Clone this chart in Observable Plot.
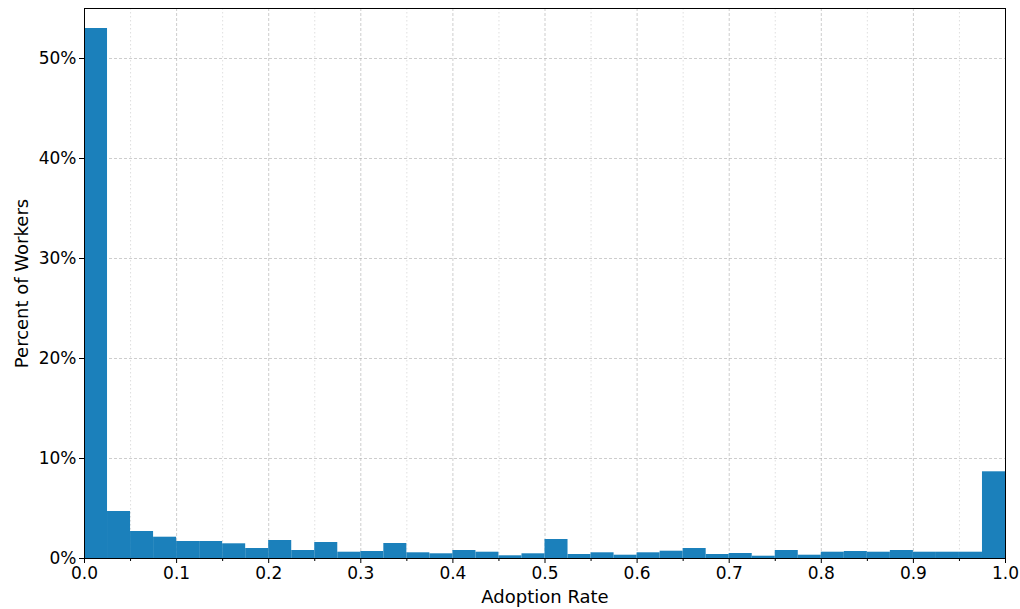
<!DOCTYPE html>
<html>
<head>
<meta charset="utf-8">
<script src="https://cdn.jsdelivr.net/npm/d3@7"></script>
<script src="https://cdn.jsdelivr.net/npm/@observablehq/plot@0.6"></script>
<style>
  html, body { margin: 0; padding: 0; background: #fff; }
  #chart { width: 1020px; height: 609px; }
</style>
</head>
<body>
<div id="chart"></div>
<script>
// Histogram bins (left edges, width 0.025) and percent of workers per bin
const binStart = [
  0.000, 0.025, 0.050, 0.075, 0.100, 0.125, 0.150, 0.175, 0.200, 0.225,
  0.250, 0.275, 0.300, 0.325, 0.350, 0.375, 0.400, 0.425, 0.450, 0.475,
  0.500, 0.525, 0.550, 0.575, 0.600, 0.625, 0.650, 0.675, 0.700, 0.725,
  0.750, 0.775, 0.800, 0.825, 0.850, 0.875, 0.900, 0.925, 0.950, 0.975
];
const binWidth = 0.025;
const percentWorkers = [
  53.0, 4.7, 2.7, 2.13, 1.7, 1.7, 1.47, 1.0, 1.8, 0.8,
  1.6, 0.63, 0.7, 1.5, 0.57, 0.47, 0.8, 0.63, 0.27, 0.47,
  1.9, 0.4, 0.57, 0.33, 0.57, 0.73, 1.0, 0.4, 0.5, 0.23,
  0.8, 0.33, 0.63, 0.7, 0.63, 0.8, 0.63, 0.63, 0.63, 8.67
];
const xMajorTicks = [0, 0.1, 0.2, 0.3, 0.4, 0.5, 0.6, 0.7, 0.8, 0.9, 1.0];
const xMinorTicks = [0.05, 0.15, 0.25, 0.35, 0.45, 0.55, 0.65, 0.75, 0.85, 0.95];
const yTicks = [0, 10, 20, 30, 40, 50];

const bins = binStart.map((s, i) => ({x1: s, x2: s + binWidth, y: percentWorkers[i]}));

const chart = Plot.plot({
  width: 1020,
  height: 609,
  marginLeft: 84,
  marginRight: 15,
  marginTop: 8,
  marginBottom: 51,
  style: {fontFamily: "DejaVu Sans", fontSize: "17px", color: "#000", background: "#fff"},
  x: {domain: [0, 1]},
  y: {domain: [0, 55]},
  marks: [
    Plot.gridX(xMinorTicks, {stroke: "#b0b0b0", strokeOpacity: 0.5, strokeDasharray: "1.5,2.5", strokeWidth: 0.8}),
    Plot.gridX(xMajorTicks, {stroke: "#b0b0b0", strokeOpacity: 0.8, strokeDasharray: "3,2", strokeWidth: 0.8}),
    Plot.gridY(yTicks, {stroke: "#b0b0b0", strokeOpacity: 0.8, strokeDasharray: "3,2", strokeWidth: 0.8}),
    Plot.rectY(bins, {x1: "x1", x2: "x2", y: "y", fill: "#1b80bb", inset: 0}),
    Plot.axisX(xMajorTicks, {tickFormat: d3.format(".1f"), tickSize: 5, tickPadding: 3, fontSize: 17, label: null}),
    Plot.axisX(xMinorTicks, {tickFormat: null, text: null, tickSize: 3, label: null}),
    Plot.axisY(yTicks, {tickFormat: d => d + "%", tickSize: 5, tickPadding: 3, fontSize: 17, label: null}),
    Plot.text(["Adoption Rate"], {frameAnchor: "bottom", dy: 44, fontSize: 18, fill: "#000"}),
    Plot.text(["Percent of Workers"], {frameAnchor: "left", dx: -62, rotate: -90, textAnchor: "middle", fontSize: 18, fill: "#000"}),
    Plot.frame({stroke: "#000", strokeWidth: 1})
  ]
});
document.getElementById("chart").appendChild(chart);
</script>
</body>
</html>
